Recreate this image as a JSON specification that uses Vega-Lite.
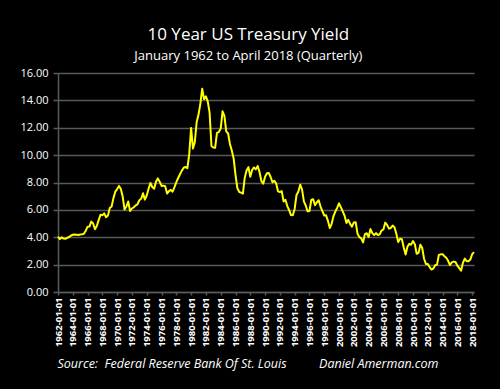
{
  "$schema": "https://vega.github.io/schema/vega-lite/v6.json",
  "width": 416,
  "height": 219,
  "autosize": {"type": "none"},
  "padding": {"left": 58, "top": 73, "right": 26, "bottom": 97},
  "background": "#000000",
  "config": {"view": {"stroke": null}, "font": "Open Sans"},
  "title": {
    "text": "10 Year US Treasury Yield",
    "subtitle": "January 1962 to April 2018 (Quarterly)",
    "color": "#ffffff",
    "subtitleColor": "#ffffff",
    "font": "Open Sans",
    "subtitleFont": "Open Sans",
    "fontSize": 17,
    "fontWeight": "normal",
    "subtitleFontSize": 13,
    "frame": "bounds",
    "anchor": "middle",
    "offset": 3,
    "subtitlePadding": 6
  },
  "data": {
    "format": {"parse": {"d": "utc:'%Y-%m-%d'"}},
    "values": [
      {"d":"1962-01-01","v":4.04},{"d":"1962-04-01","v":3.87},{"d":"1962-07-01","v":3.99},{"d":"1962-10-01","v":3.90},
      {"d":"1963-01-01","v":3.89},{"d":"1963-04-01","v":3.96},{"d":"1963-07-01","v":4.02},{"d":"1963-10-01","v":4.12},
      {"d":"1964-01-01","v":4.18},{"d":"1964-04-01","v":4.20},{"d":"1964-07-01","v":4.19},{"d":"1964-10-01","v":4.17},
      {"d":"1965-01-01","v":4.20},{"d":"1965-04-01","v":4.21},{"d":"1965-07-01","v":4.25},{"d":"1965-10-01","v":4.47},
      {"d":"1966-01-01","v":4.77},{"d":"1966-04-01","v":4.78},{"d":"1966-07-01","v":5.14},{"d":"1966-10-01","v":5.00},
      {"d":"1967-01-01","v":4.58},{"d":"1967-04-01","v":4.82},{"d":"1967-07-01","v":5.25},{"d":"1967-10-01","v":5.64},
      {"d":"1968-01-01","v":5.61},{"d":"1968-04-01","v":5.74},{"d":"1968-07-01","v":5.46},{"d":"1968-10-01","v":5.58},
      {"d":"1969-01-01","v":6.14},{"d":"1969-04-01","v":6.25},{"d":"1969-07-01","v":6.86},{"d":"1969-10-01","v":7.33},
      {"d":"1970-01-01","v":7.52},{"d":"1970-04-01","v":7.75},{"d":"1970-07-01","v":7.53},{"d":"1970-10-01","v":6.97},
      {"d":"1971-01-01","v":6.02},{"d":"1971-04-01","v":6.25},{"d":"1971-07-01","v":6.61},{"d":"1971-10-01","v":5.92},
      {"d":"1972-01-01","v":6.10},{"d":"1972-04-01","v":6.19},{"d":"1972-07-01","v":6.33},{"d":"1972-10-01","v":6.41},
      {"d":"1973-01-01","v":6.70},{"d":"1973-04-01","v":6.81},{"d":"1973-07-01","v":7.21},{"d":"1973-10-01","v":6.75},
      {"d":"1974-01-01","v":7.05},{"d":"1974-04-01","v":7.54},{"d":"1974-07-01","v":7.96},{"d":"1974-10-01","v":7.67},
      {"d":"1975-01-01","v":7.54},{"d":"1975-04-01","v":8.05},{"d":"1975-07-01","v":8.30},{"d":"1975-10-01","v":8.06},
      {"d":"1976-01-01","v":7.75},{"d":"1976-04-01","v":7.77},{"d":"1976-07-01","v":7.73},{"d":"1976-10-01","v":7.19},
      {"d":"1977-01-01","v":7.37},{"d":"1977-04-01","v":7.46},{"d":"1977-07-01","v":7.33},{"d":"1977-10-01","v":7.66},
      {"d":"1978-01-01","v":8.03},{"d":"1978-04-01","v":8.33},{"d":"1978-07-01","v":8.60},{"d":"1978-10-01","v":8.87},
      {"d":"1979-01-01","v":9.08},{"d":"1979-04-01","v":9.14},{"d":"1979-07-01","v":9.05},{"d":"1979-10-01","v":10.09},
      {"d":"1980-01-01","v":11.99},{"d":"1980-04-01","v":10.48},{"d":"1980-07-01","v":10.95},{"d":"1980-10-01","v":12.42},
      {"d":"1981-01-01","v":12.96},{"d":"1981-04-01","v":13.75},{"d":"1981-07-01","v":14.85},{"d":"1981-10-01","v":14.09},
      {"d":"1982-01-01","v":14.29},{"d":"1982-04-01","v":13.93},{"d":"1982-07-01","v":13.11},{"d":"1982-10-01","v":10.67},
      {"d":"1983-01-01","v":10.56},{"d":"1983-04-01","v":10.54},{"d":"1983-07-01","v":11.63},{"d":"1983-10-01","v":11.69},
      {"d":"1984-01-01","v":11.94},{"d":"1984-04-01","v":13.20},{"d":"1984-07-01","v":12.87},{"d":"1984-10-01","v":11.74},
      {"d":"1985-01-01","v":11.58},{"d":"1985-04-01","v":10.81},{"d":"1985-07-01","v":10.34},{"d":"1985-10-01","v":9.76},
      {"d":"1986-01-01","v":8.56},{"d":"1986-04-01","v":7.60},{"d":"1986-07-01","v":7.31},{"d":"1986-10-01","v":7.26},
      {"d":"1987-01-01","v":7.19},{"d":"1987-04-01","v":8.34},{"d":"1987-07-01","v":8.88},{"d":"1987-10-01","v":9.12},
      {"d":"1988-01-01","v":8.42},{"d":"1988-04-01","v":8.91},{"d":"1988-07-01","v":9.10},{"d":"1988-10-01","v":8.96},
      {"d":"1989-01-01","v":9.21},{"d":"1989-04-01","v":8.77},{"d":"1989-07-01","v":8.11},{"d":"1989-10-01","v":7.91},
      {"d":"1990-01-01","v":8.42},{"d":"1990-04-01","v":8.68},{"d":"1990-07-01","v":8.70},{"d":"1990-10-01","v":8.40},
      {"d":"1991-01-01","v":8.02},{"d":"1991-04-01","v":8.13},{"d":"1991-07-01","v":7.94},{"d":"1991-10-01","v":7.35},
      {"d":"1992-01-01","v":7.30},{"d":"1992-04-01","v":7.38},{"d":"1992-07-01","v":6.62},{"d":"1992-10-01","v":6.74},
      {"d":"1993-01-01","v":6.28},{"d":"1993-04-01","v":5.99},{"d":"1993-07-01","v":5.62},{"d":"1993-10-01","v":5.61},
      {"d":"1994-01-01","v":6.07},{"d":"1994-04-01","v":7.08},{"d":"1994-07-01","v":7.33},{"d":"1994-10-01","v":7.84},
      {"d":"1995-01-01","v":7.48},{"d":"1995-04-01","v":6.62},{"d":"1995-07-01","v":6.32},{"d":"1995-10-01","v":5.89},
      {"d":"1996-01-01","v":5.91},{"d":"1996-04-01","v":6.72},{"d":"1996-07-01","v":6.78},{"d":"1996-10-01","v":6.34},
      {"d":"1997-01-01","v":6.56},{"d":"1997-04-01","v":6.70},{"d":"1997-07-01","v":6.24},{"d":"1997-10-01","v":5.91},
      {"d":"1998-01-01","v":5.59},{"d":"1998-04-01","v":5.60},{"d":"1998-07-01","v":5.20},{"d":"1998-10-01","v":4.67},
      {"d":"1999-01-01","v":4.98},{"d":"1999-04-01","v":5.54},{"d":"1999-07-01","v":5.88},{"d":"1999-10-01","v":6.14},
      {"d":"2000-01-01","v":6.48},{"d":"2000-04-01","v":6.18},{"d":"2000-07-01","v":5.89},{"d":"2000-10-01","v":5.57},
      {"d":"2001-01-01","v":5.05},{"d":"2001-04-01","v":5.27},{"d":"2001-07-01","v":4.98},{"d":"2001-10-01","v":4.77},
      {"d":"2002-01-01","v":5.08},{"d":"2002-04-01","v":5.10},{"d":"2002-07-01","v":4.26},{"d":"2002-10-01","v":4.01},
      {"d":"2003-01-01","v":3.92},{"d":"2003-04-01","v":3.62},{"d":"2003-07-01","v":4.23},{"d":"2003-10-01","v":4.29},
      {"d":"2004-01-01","v":4.02},{"d":"2004-04-01","v":4.60},{"d":"2004-07-01","v":4.30},{"d":"2004-10-01","v":4.17},
      {"d":"2005-01-01","v":4.30},{"d":"2005-04-01","v":4.16},{"d":"2005-07-01","v":4.21},{"d":"2005-10-01","v":4.49},
      {"d":"2006-01-01","v":4.57},{"d":"2006-04-01","v":5.07},{"d":"2006-07-01","v":4.90},{"d":"2006-10-01","v":4.63},
      {"d":"2007-01-01","v":4.68},{"d":"2007-04-01","v":4.85},{"d":"2007-07-01","v":4.73},{"d":"2007-10-01","v":4.26},
      {"d":"2008-01-01","v":3.66},{"d":"2008-04-01","v":3.89},{"d":"2008-07-01","v":3.86},{"d":"2008-10-01","v":3.25},
      {"d":"2009-01-01","v":2.74},{"d":"2009-04-01","v":3.31},{"d":"2009-07-01","v":3.52},{"d":"2009-10-01","v":3.46},
      {"d":"2010-01-01","v":3.72},{"d":"2010-04-01","v":3.49},{"d":"2010-07-01","v":2.79},{"d":"2010-10-01","v":2.86},
      {"d":"2011-01-01","v":3.46},{"d":"2011-04-01","v":3.21},{"d":"2011-07-01","v":2.43},{"d":"2011-10-01","v":2.05},
      {"d":"2012-01-01","v":2.04},{"d":"2012-04-01","v":1.82},{"d":"2012-07-01","v":1.64},{"d":"2012-10-01","v":1.71},
      {"d":"2013-01-01","v":1.95},{"d":"2013-04-01","v":2.00},{"d":"2013-07-01","v":2.71},{"d":"2013-10-01","v":2.75},
      {"d":"2014-01-01","v":2.76},{"d":"2014-04-01","v":2.62},{"d":"2014-07-01","v":2.50},{"d":"2014-10-01","v":2.28},
      {"d":"2015-01-01","v":1.97},{"d":"2015-04-01","v":2.16},{"d":"2015-07-01","v":2.22},{"d":"2015-10-01","v":2.19},
      {"d":"2016-01-01","v":1.92},{"d":"2016-04-01","v":1.75},{"d":"2016-07-01","v":1.56},{"d":"2016-10-01","v":2.13},
      {"d":"2017-01-01","v":2.44},{"d":"2017-04-01","v":2.26},{"d":"2017-07-01","v":2.24},{"d":"2017-10-01","v":2.37},
      {"d":"2018-01-01","v":2.76},{"d":"2018-04-01","v":2.92}
    ]
  },
  "mark": {"type": "line", "color": "#ffff00", "strokeWidth": 2, "strokeJoin": "round"},
  "encoding": {
    "x": {
      "field": "d",
      "type": "temporal",
      "scale": {
        "type": "utc",
        "domain": [
          {"year": 1962, "month": 1, "date": 1, "utc": true},
          {"year": 2018, "month": 4, "date": 1, "utc": true}
        ]
      },
      "axis": {
        "values": [
          {"year":1962,"month":1,"date":1,"utc":true},{"year":1964,"month":1,"date":1,"utc":true},
          {"year":1966,"month":1,"date":1,"utc":true},{"year":1968,"month":1,"date":1,"utc":true},
          {"year":1970,"month":1,"date":1,"utc":true},{"year":1972,"month":1,"date":1,"utc":true},
          {"year":1974,"month":1,"date":1,"utc":true},{"year":1976,"month":1,"date":1,"utc":true},
          {"year":1978,"month":1,"date":1,"utc":true},{"year":1980,"month":1,"date":1,"utc":true},
          {"year":1982,"month":1,"date":1,"utc":true},{"year":1984,"month":1,"date":1,"utc":true},
          {"year":1986,"month":1,"date":1,"utc":true},{"year":1988,"month":1,"date":1,"utc":true},
          {"year":1990,"month":1,"date":1,"utc":true},{"year":1992,"month":1,"date":1,"utc":true},
          {"year":1994,"month":1,"date":1,"utc":true},{"year":1996,"month":1,"date":1,"utc":true},
          {"year":1998,"month":1,"date":1,"utc":true},{"year":2000,"month":1,"date":1,"utc":true},
          {"year":2002,"month":1,"date":1,"utc":true},{"year":2004,"month":1,"date":1,"utc":true},
          {"year":2006,"month":1,"date":1,"utc":true},{"year":2008,"month":1,"date":1,"utc":true},
          {"year":2010,"month":1,"date":1,"utc":true},{"year":2012,"month":1,"date":1,"utc":true},
          {"year":2014,"month":1,"date":1,"utc":true},{"year":2016,"month":1,"date":1,"utc":true},
          {"year":2018,"month":1,"date":1,"utc":true}
        ],
        "labelExpr": "utcFormat(datum.value, '%Y-%m-%d')",
        "labelAngle": -90,
        "labelColor": "#ffffff",
        "labelFont": "Open Sans",
        "labelFontSize": 9.5,
        "labelFontWeight": "bold",
        "labelPadding": 2,
        "labelOverlap": false,
        "labelFlush": false,
        "tickSize": 3,
        "tickColor": "#595959",
        "tickWidth": 1.5,
        "domainColor": "#595959",
        "domainWidth": 1.5,
        "grid": false,
        "title": "Source:\u00a0\u00a0Federal Reserve Bank Of St. Louis\u00a0\u00a0\u00a0\u00a0\u00a0\u00a0\u00a0\u00a0\u00a0\u00a0Daniel Amerman.com",
        "titleX": -1,
        "titleY": 75,
        "titleAlign": "left",
        "titleAnchor": "start",
        "titleBaseline": "alphabetic",
        "titleFont": "Open Sans",
        "titleFontStyle": "italic",
        "titleFontWeight": "normal",
        "titleFontSize": 12.5,
        "titleColor": "#ffffff"
      }
    },
    "y": {
      "field": "v",
      "type": "quantitative",
      "scale": {"domain": [0, 16], "nice": false, "zero": true},
      "axis": {
        "values": [0, 2, 4, 6, 8, 10, 12, 14, 16],
        "format": ".2f",
        "labelColor": "#ffffff",
        "labelFont": "Open Sans",
        "labelFontSize": 11,
        "labelPadding": 5,
        "tickSize": 5,
        "tickColor": "#595959",
        "tickWidth": 1.5,
        "domainColor": "#595959",
        "domainWidth": 1.5,
        "gridColor": "#595959",
        "gridWidth": 1.5,
        "title": null
      }
    }
  }
}
